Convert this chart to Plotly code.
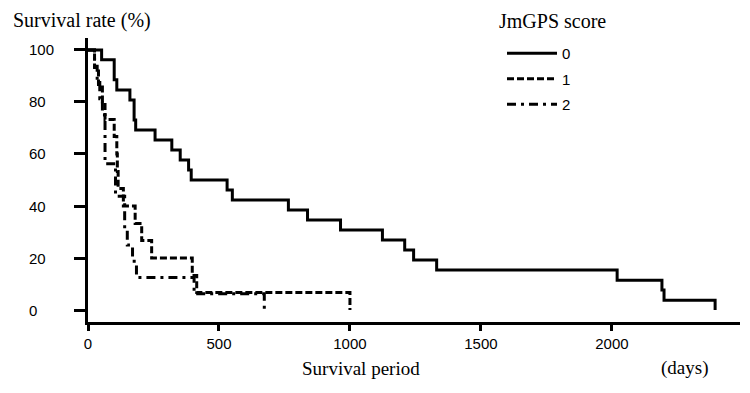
import plotly.graph_objects as go

# ---- data (Kaplan-Meier steps) ----
days_0 = [0, 52, 100, 110, 160, 176, 182, 256, 320, 352, 384, 394, 531, 551,
          765, 838, 964, 1124, 1209, 1243, 1331, 2020, 2191, 2199, 2394]
surv_0 = [100, 96.2, 88.5, 84.6, 80.8, 73.1, 69.2, 65.4, 61.5, 57.7, 53.8, 50.0,
          46.2, 42.3, 38.5, 34.6, 30.8, 26.9, 23.1, 19.2, 15.4, 11.5, 7.7, 3.8, 0]

days_1 = [0, 25, 40, 55, 65, 100, 110, 112, 115, 135, 180, 205, 243, 398, 415, 1000]
surv_1 = [100, 93.3, 86.7, 80.0, 73.3, 66.7, 60.0, 53.3, 46.7, 40.0, 33.3, 26.7,
          20.0, 13.3, 6.7, 0]

days_2 = [0, 25, 35, 45, 55, 65, 105, 140, 150, 170, 185, 405, 673]
surv_2 = [100, 93.75, 87.5, 81.25, 75.0, 56.25, 43.75, 31.25, 25.0, 18.75, 12.5, 6.25, 0]

group_names = ["0", "1", "2"]
x_ticks = [0, 500, 1000, 1500, 2000]
y_ticks = [0, 20, 40, 60, 80, 100]

SERIF = "Liberation Serif, Times New Roman, serif"
SANS = "Liberation Sans, Arial, sans-serif"

# the page body has an 8px margin; size the figure so it fits the window
OFF = 8
W, H = 750 - 2 * OFF, 393 - 2 * OFF
PL, PR, PT, PB = 88, 740, 38, 322          # plot area in page pixels
ML, MR, MT, MB = PL - OFF, OFF + W - PR, PT - OFF, OFF + H - PB
PW, PH = PR - PL, PB - PT


def px_x(p):
    return (p - PL) / PW


def px_y(p):
    return (PB - p) / PH


fig = go.Figure()
styles = ["solid", "7px,3px", "9px,5px,3px,5px"]
for name, xs, ys, dash, grp in zip(group_names, [days_0, days_1, days_2],
                                   [surv_0, surv_1, surv_2], styles, ["a", "b", "c"]):
    fig.add_trace(go.Scatter(
        x=xs, y=ys, mode="lines", name=name, legendgroup=grp,
        line=dict(color="black", width=3, shape="hv", dash=dash),
    ))

fig.update_layout(
    width=W, height=H,
    margin=dict(l=ML, r=MR, t=MT, b=MB, autoexpand=False),
    paper_bgcolor="white", plot_bgcolor="white",
    font=dict(family=SANS, size=15, color="black"),
    showlegend=True,
    legend=dict(
        x=px_x(502), y=px_y(37), xanchor="left", yanchor="top",
        font=dict(family=SANS, size=15, color="black"),
        tracegroupgap=3, itemwidth=50, bgcolor="rgba(0,0,0,0)",
    ),
)

fig.update_xaxes(
    range=[0, 2489], tickvals=x_ticks, ticktext=[str(v) for v in x_ticks],
    ticks="outside", ticklen=6, tickwidth=2.5, tickcolor="black",
    showline=True, linewidth=3, linecolor="black",
    showgrid=False, zeroline=False,
    tickfont=dict(family=SANS, size=15, color="black"),
)
fig.update_yaxes(
    range=[-4.6, 104.6], tickvals=y_ticks,
    ticks="outside", ticklen=11, tickwidth=2.5, tickcolor="black",
    showline=True, linewidth=3, linecolor="black",
    showgrid=False, zeroline=False, showticklabels=False,
)

# left-aligned y tick labels
for v in y_ticks:
    fig.add_annotation(x=px_x(27), xref="paper", y=v, yref="y", text=str(v),
                       showarrow=False, xanchor="left", yanchor="middle",
                       font=dict(family=SANS, size=15, color="black"))

fig.add_annotation(x=px_x(11), xref="paper", y=px_y(21), yref="paper",
                   text="Survival rate (%)", showarrow=False,
                   xanchor="left", yanchor="middle",
                   font=dict(family=SERIF, size=20, color="black"))
fig.add_annotation(x=px_x(497), xref="paper", y=px_y(21), yref="paper",
                   text="JmGPS score", showarrow=False,
                   xanchor="left", yanchor="middle",
                   font=dict(family=SERIF, size=20, color="black"))
fig.add_annotation(x=px_x(361), xref="paper", y=px_y(368), yref="paper",
                   text="Survival period", showarrow=False,
                   xanchor="center", yanchor="middle",
                   font=dict(family=SERIF, size=19, color="black"))
fig.add_annotation(x=px_x(684), xref="paper", y=px_y(368), yref="paper",
                   text="(days)", showarrow=False,
                   xanchor="center", yanchor="middle",
                   font=dict(family=SERIF, size=19, color="black"))

fig.write_html("out.html")
